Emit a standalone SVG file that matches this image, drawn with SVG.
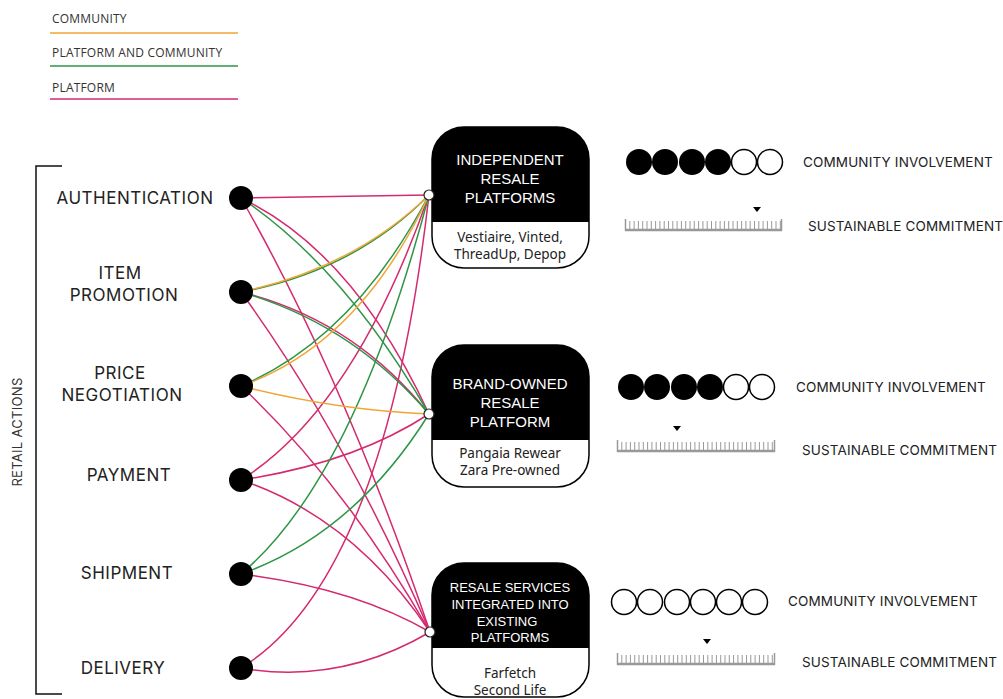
<svg xmlns="http://www.w3.org/2000/svg" width="1003" height="699" viewBox="0 0 1003 699">
<style>
.leg{font-family:"Open Sans","Liberation Sans",sans-serif;font-size:12px;letter-spacing:0.2px;fill:#333}
.lab{font-family:Inter,"Liberation Sans",sans-serif;font-size:17px;letter-spacing:0.5px;fill:#222;text-anchor:middle;dominant-baseline:central}
.rt{font-family:Inter,"Liberation Sans",sans-serif;font-size:13.5px;letter-spacing:0.15px;fill:#222;dominant-baseline:central}
.tt{font-family:"Liberation Sans",Arial,sans-serif;font-size:15px;fill:#fff;text-anchor:middle;dominant-baseline:central}
.tt3{font-size:13px}
.st{font-family:"Noto Sans","Liberation Sans",sans-serif;font-size:13.5px;fill:#222;text-anchor:middle;dominant-baseline:central}
.pk{fill:none;stroke:#D42A6E;stroke-width:1.5}
.gr{fill:none;stroke:#2E9546;stroke-width:1.5}
.or{fill:none;stroke:#F0A635;stroke-width:1.5}
.dot{fill:#000}
.port{fill:#fff;stroke:#222;stroke-width:1.2}
.box{fill:#fff;stroke:#000;stroke-width:1.5}
.full{fill:#000}
.empty{fill:#fff;stroke:#000;stroke-width:1.5}
.ticks{stroke:#999;stroke-width:8;stroke-dasharray:1 3.3}
.base{stroke:#999;stroke-width:2.5}
.endt{stroke:#999;stroke-width:1.5}
</style>

<g id="legend">
  <text class="leg" x="52" y="23">COMMUNITY</text>
  <line x1="50" y1="33" x2="238" y2="33" stroke="#F0A635" stroke-width="1.5"/>
  <text class="leg" x="52" y="57">PLATFORM AND COMMUNITY</text>
  <line x1="50" y1="66" x2="238" y2="66" stroke="#2E9546" stroke-width="1.5"/>
  <text class="leg" x="52" y="92">PLATFORM</text>
  <line x1="50" y1="99" x2="238" y2="99" stroke="#D42A6E" stroke-width="1.5"/>
</g>

<g id="bracket">
  <path d="M62,166 H36 V694 H62" fill="none" stroke="#111" stroke-width="1.5"/>
  <text x="17" y="432" transform="rotate(-90 17 432)" text-anchor="middle" dominant-baseline="central" style="font-family:Inter,'Liberation Sans',sans-serif;font-size:13px;letter-spacing:0.3px;fill:#333">RETAIL ACTIONS</text>
</g>

<g id="connectors">
  <path class="pk" d="M241,198 L429,195"/>
  <path class="pk" d="M241,198 Q354,252 429,414"/>
  <path class="pk" d="M241,198 Q345,380 430,632"/>
  <path class="pk" d="M241,292 Q354,320 429,414"/>
  <path class="pk" d="M241,292 Q345,435 430,632"/>
  <path class="pk" d="M241,386 Q345,484 430,632"/>
  <path class="pk" d="M241,480 Q354,409 429,195"/>
  <path class="pk" d="M241,480 Q354,463 429,414"/>
  <path class="pk" d="M241,480 Q354,518 430,632"/>
  <path class="pk" d="M241,574 Q354,588 430,632"/>
  <path class="pk" d="M241,668 Q385,580 429,195"/>
  <path class="pk" d="M241,668 Q340,685 430,632"/>
  <path class="gr" d="M241,198 Q344,267 429,414"/>
  <path class="gr" d="M241,292 Q354,271 429,195"/>
  <path class="gr" d="M241,292 Q352,324 429,414"/>
  <path class="gr" d="M241,386 Q354,338 429,195"/>
  <path class="gr" d="M241,574 Q354,479 429,195"/>
  <path class="gr" d="M241,574 Q354,534 429,414"/>
  <path class="or" d="M241,292 Q354,268 429,195"/>
  <path class="or" d="M241,386 Q360,344 429,195"/>
  <path class="or" d="M241,386 Q335,410 429,414"/>
</g>

<g id="authentication">
  <text class="lab" x="135" y="198">AUTHENTICATION</text>
  <circle class="dot" cx="241" cy="198" r="12"/>
</g>
<g id="item-promotion">
  <text class="lab" x="120" y="273">ITEM</text>
  <text class="lab" x="124" y="295">PROMOTION</text>
  <circle class="dot" cx="241" cy="292" r="12"/>
</g>
<g id="price-negotiation">
  <text class="lab" x="120" y="373">PRICE</text>
  <text class="lab" x="122" y="395">NEGOTIATION</text>
  <circle class="dot" cx="241" cy="386" r="12"/>
</g>
<g id="payment">
  <text class="lab" x="129" y="475">PAYMENT</text>
  <circle class="dot" cx="241" cy="480" r="12"/>
</g>
<g id="shipment">
  <text class="lab" x="127" y="573">SHIPMENT</text>
  <circle class="dot" cx="241" cy="574" r="12"/>
</g>
<g id="delivery">
  <text class="lab" x="123" y="668">DELIVERY</text>
  <circle class="dot" cx="241" cy="668" r="12"/>
</g>

<g id="independent-resale-platforms">
  <rect class="box" x="432" y="127" width="157" height="141" rx="32"/>
  <path class="full" d="M432,222 V159 A32,32 0 0 1 464,127 H557 A32,32 0 0 1 589,159 V222 Z"/>
  <text class="tt" x="510" y="159">INDEPENDENT</text>
  <text class="tt" x="510" y="178">RESALE</text>
  <text class="tt" x="510" y="197">PLATFORMS</text>
  <text class="st" x="510" y="237">Vestiaire, Vinted,</text>
  <text class="st" x="510" y="254">ThreadUp, Depop</text>
  <circle class="port" cx="429" cy="195" r="5"/>
</g>

<g id="brand-owned-resale-platform">
  <rect class="box" x="432" y="345" width="157" height="142" rx="32"/>
  <path class="full" d="M432,440 V377 A32,32 0 0 1 464,345 H557 A32,32 0 0 1 589,377 V440 Z"/>
  <text class="tt" x="510" y="383">BRAND-OWNED</text>
  <text class="tt" x="510" y="402">RESALE</text>
  <text class="tt" x="510" y="421">PLATFORM</text>
  <text class="st" x="510" y="453">Pangaia Rewear</text>
  <text class="st" x="510" y="470">Zara Pre-owned</text>
  <circle class="port" cx="429" cy="414" r="5"/>
</g>

<g id="resale-services-integrated">
  <rect class="box" x="432" y="563" width="157" height="134" rx="32"/>
  <path class="full" d="M432,648 V595 A32,32 0 0 1 464,563 H557 A32,32 0 0 1 589,595 V648 Z"/>
  <text class="tt tt3" x="510" y="587">RESALE SERVICES</text>
  <text class="tt tt3" x="510" y="604">INTEGRATED INTO</text>
  <text class="tt tt3" x="507" y="621">EXISTING</text>
  <text class="tt tt3" x="510" y="637">PLATFORMS</text>
  <text class="st" x="510" y="673">Farfetch</text>
  <text class="st" x="510" y="690">Second Life</text>
  <circle class="port" cx="430" cy="632" r="5"/>
</g>

<g id="rating-1">
  <circle class="full" cx="639" cy="162" r="13"/>
  <circle class="full" cx="665" cy="162" r="13"/>
  <circle class="full" cx="692" cy="162" r="13"/>
  <circle class="full" cx="718" cy="162" r="13"/>
  <circle class="empty" cx="744" cy="162" r="12.5"/>
  <circle class="empty" cx="770" cy="162" r="12.5"/>
  <text class="rt" x="803" y="162">COMMUNITY INVOLVEMENT</text>
  <line class="ticks" x1="625" y1="225" x2="782" y2="225"/>
  <line class="base" x1="625" y1="230" x2="782" y2="230"/>
  <line class="endt" x1="625.5" y1="219" x2="625.5" y2="231"/>
  <line class="endt" x1="781.5" y1="219" x2="781.5" y2="231"/>
  <path d="M753,207 L761,207 L757,212 Z" fill="#000"/>
  <text class="rt" x="808" y="226">SUSTAINABLE COMMITMENT</text>
</g>

<g id="rating-2">
  <circle class="full" cx="631" cy="387" r="13"/>
  <circle class="full" cx="657" cy="387" r="13"/>
  <circle class="full" cx="684" cy="387" r="13"/>
  <circle class="full" cx="710" cy="387" r="13"/>
  <circle class="empty" cx="736" cy="387" r="12.5"/>
  <circle class="empty" cx="762" cy="387" r="12.5"/>
  <text class="rt" x="796" y="387">COMMUNITY INVOLVEMENT</text>
  <line class="ticks" x1="617" y1="446" x2="775" y2="446"/>
  <line class="base" x1="617" y1="451" x2="775" y2="451"/>
  <line class="endt" x1="617.5" y1="440" x2="617.5" y2="452"/>
  <line class="endt" x1="774.5" y1="440" x2="774.5" y2="452"/>
  <path d="M673,426 L681,426 L677,431 Z" fill="#000"/>
  <text class="rt" x="802" y="450">SUSTAINABLE COMMITMENT</text>
</g>

<g id="rating-3">
  <circle class="empty" cx="624" cy="602" r="12.5"/>
  <circle class="empty" cx="650" cy="602" r="12.5"/>
  <circle class="empty" cx="677" cy="602" r="12.5"/>
  <circle class="empty" cx="703" cy="602" r="12.5"/>
  <circle class="empty" cx="729" cy="602" r="12.5"/>
  <circle class="empty" cx="755" cy="602" r="12.5"/>
  <text class="rt" x="788" y="601">COMMUNITY INVOLVEMENT</text>
  <line class="ticks" x1="617" y1="659" x2="775" y2="659"/>
  <line class="base" x1="617" y1="664" x2="775" y2="664"/>
  <line class="endt" x1="617.5" y1="653" x2="617.5" y2="665"/>
  <line class="endt" x1="774.5" y1="653" x2="774.5" y2="665"/>
  <path d="M703,639 L711,639 L707,644 Z" fill="#000"/>
  <text class="rt" x="802" y="662">SUSTAINABLE COMMITMENT</text>
</g>
</svg>
